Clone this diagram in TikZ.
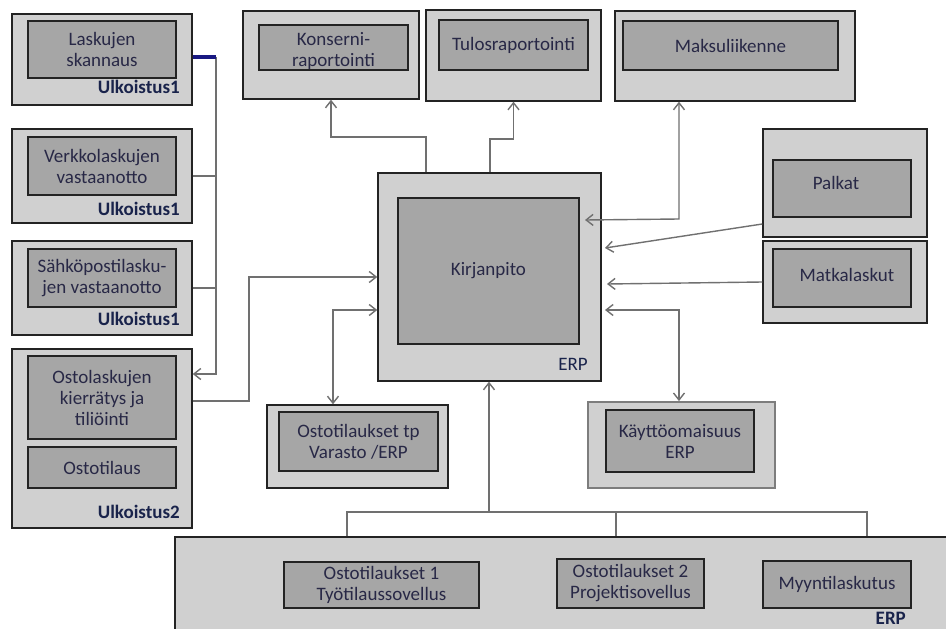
\documentclass[tikz,border=0pt]{standalone}
\usepackage{fontspec}
\setmainfont{Carlito}
\usetikzlibrary{arrows.meta,fit,calc}
\definecolor{outerfill}{RGB}{208,208,208}
\definecolor{innerfill}{RGB}{166,166,166}
\definecolor{edge}{RGB}{35,35,35}
\definecolor{softedge}{RGB}{125,125,125}
\definecolor{wirec}{RGB}{112,112,112}
\definecolor{ink}{RGB}{40,40,70}
\definecolor{tagink}{RGB}{25,35,75}
\definecolor{navy}{RGB}{25,25,130}

\begin{document}
\begin{tikzpicture}[x=1pt,y=-1pt,
  font=\fontsize{19}{21}\selectfont,
  obox/.style={draw=edge, fill=outerfill, line width=1.4pt, inner sep=0pt},
  ibox/.style={draw=edge, fill=innerfill, line width=1.4pt, inner sep=0pt},
  txt/.style={align=center, text=ink, inner sep=0pt},
  tag/.style={anchor=base east, inner sep=0pt, text=tagink,
              font=\fontsize{19}{21}\selectfont\bfseries},
  plaintag/.style={anchor=base east, inner sep=0pt, text=tagink},
  wire/.style={draw=wirec, line width=1.4pt},
  tip/.style={-{Straight Barb[length=7pt,width=11pt]}},
  tips/.style={{Straight Barb[length=7pt,width=11pt]}-{Straight Barb[length=7pt,width=11pt]}},
  busline/.style={draw=navy, line width=3.2pt}
]
\useasboundingbox (0,0) rectangle (946,629);
\fill[white] (0,0) rectangle (946,629);

% ---- outsourced invoice handling (left column)
\node[obox, fit={(12,14) (192,105)}] (b1) {};
\node[ibox, fit={(28,21) (176,78)}] (b1i) {};
\node[txt] (b1x) at (b1i) {Laskujen\\skannaus};
\node[tag] (b1t) at (180,93) {Ulkoistus1};

\node[obox, fit={(12,129) (192,223)}] (b2) {};
\node[ibox, fit={(28,137) (176,195)}] (b2i) {};
\node[txt] (b2x) at (b2i) {Verkkolaskujen\\vastaanotto};
\node[tag] (b2t) at (180,215) {Ulkoistus1};

\node[obox, fit={(12,241) (192,335)}] (b3) {};
\node[ibox, fit={(28,249) (176,307)}] (b3i) {};
\node[txt] (b3x) at (b3i) {Sähköpostilasku-\\jen vastaanotto};
\node[tag] (b3t) at (180,325) {Ulkoistus1};

\node[obox, fit={(12,349) (192,528)}] (b4) {};
\node[ibox, fit={(28,356) (176,439)}] (b4i) {};
\node[txt] (b4x) at (b4i) {Ostolaskujen\\kierrätys ja\\tiliöinti};
\node[ibox, fit={(28,447) (176,488)}] (b4o) {};
\node[txt] (b4y) at (b4o) {Ostotilaus};
\node[tag] (b4t) at (180,518) {Ulkoistus2};

% ---- reporting and payments (top row)
\node[obox, fit={(243,11) (419,99)}] (kons) {};
\node[ibox, fit={(259,25) (408,70)}] (konsi) {};
\node[txt] (konsx) at ($(konsi)+(0,3)$) {Konserni-\\raportointi};

\node[obox, fit={(426,10) (601,101)}] (tulos) {};
\node[ibox, fit={(439,20) (588,70)}] (tulosi) {};
\node[txt] (tulosx) at (tulosi) {Tulosraportointi};

\node[obox, fit={(615,11) (855,101)}] (maks) {};
\node[ibox, fit={(623,21) (838,70)}] (maksi) {};
\node[txt] (maksx) at (maksi) {Maksuliikenne};

% ---- general ledger
\node[obox, fit={(378,173) (601,381)}] (kp) {};
\node[ibox, fit={(398,198) (579,344)}] (kpi) {};
\node[txt] (kpx) at (kpi) {Kirjanpito};
\node[plaintag] (kpt) at (588,370) {ERP};

% ---- payroll and travel expenses
\node[obox, fit={(763,129) (927,237)}] (palk) {};
\node[ibox, fit={(773,160) (911,217)}] (palki) {};
\node[txt] (palkx) at (836,183) {Palkat};

\node[obox, fit={(763,241) (927,323)}] (matk) {};
\node[ibox, fit={(773,249) (911,307)}] (matki) {};
\node[txt] (matkx) at (847,275) {Matkalaskut};

% ---- purchase orders and fixed assets
\node[obox, fit={(267,405) (448,488)}] (otp) {};
\node[ibox, fit={(279,412) (438,471)}] (otpi) {};
\node[txt] (otpx) at (otpi) {Ostotilaukset tp\\Varasto /ERP};

\node[obox, draw=softedge, line width=1.8pt, fit={(588,402) (775,488)}] (kayt) {};
\node[ibox, fit={(606,410) (754,472)}] (kayti) {};
\node[txt] (kaytx) at (kayti) {Käyttöomaisuus\\ERP};

% ---- ERP sales and purchasing (bottom band)
\node[obox, fit={(175,537) (960,680)}] (bot) {};
\node[ibox, fit={(284,562) (479,608)}] (o1) {};
\node[txt] (o1x) at (o1) {Ostotilaukset 1\\Työtilaussovellus};
\node[ibox, fit={(557,559) (704,608)}] (o2) {};
\node[txt] (o2x) at (o2) {Ostotilaukset 2\\Projektisovellus};
\node[ibox, fit={(763,561) (911,608)}] (myy) {};
\node[txt] (myyx) at (myy) {Myyntilaskutus};
\node[tag] (bott) at (906,624) {ERP};

% ---- connectors
\coordinate (bus) at (216,57);
\draw[wire] (b2.east) -- (bus |- b2.east);
\draw[wire] (b3.east) -- (bus |- b3.east);
\draw[wire, tip] (bus) -- (216,374) -- (b4.east |- 0,374);
\draw[busline] (b1.east |- bus) -- (bus);

\draw[wire, tip] (b4.east |- 0,401) -- (249,401) -- (249,277) -- (kp.west |- 0,277);
\draw[wire, tips] (otp.north -| 333,0) -- (333,310) -- (kp.west |- 0,310);

\draw[wire, tip] (kp.north -| 426,0) -- (426,137) -- (kons.south |- 0,137) -- (kons.south);
\draw[wire, tip] (kp.north -| 490,0) -- (490,139) -- (tulos.south |- 0,139) -- (tulos.south);

\draw[wire, tips] (maks.south -| 679,0) -- (679,219) -- (585,220);
\draw[wire, tip] (palk.west |- 0,224) -- (605,248);
\draw[wire, tip] (matk.west |- 0,282) -- (607,284);
\draw[wire, tips] (kayt.north -| 679,0) -- (679,310) -- (605,310);

\coordinate (hub) at (489,512);
\draw[wire, tip] (hub) -- (kp.south -| hub);
\draw[wire] (bot.north -| 347,0) -- (347,512) -- (867,512) -- (bot.north -| 867,0);
\draw[wire] (616,512) -- (bot.north -| 616,0);
\end{tikzpicture}
\end{document}
